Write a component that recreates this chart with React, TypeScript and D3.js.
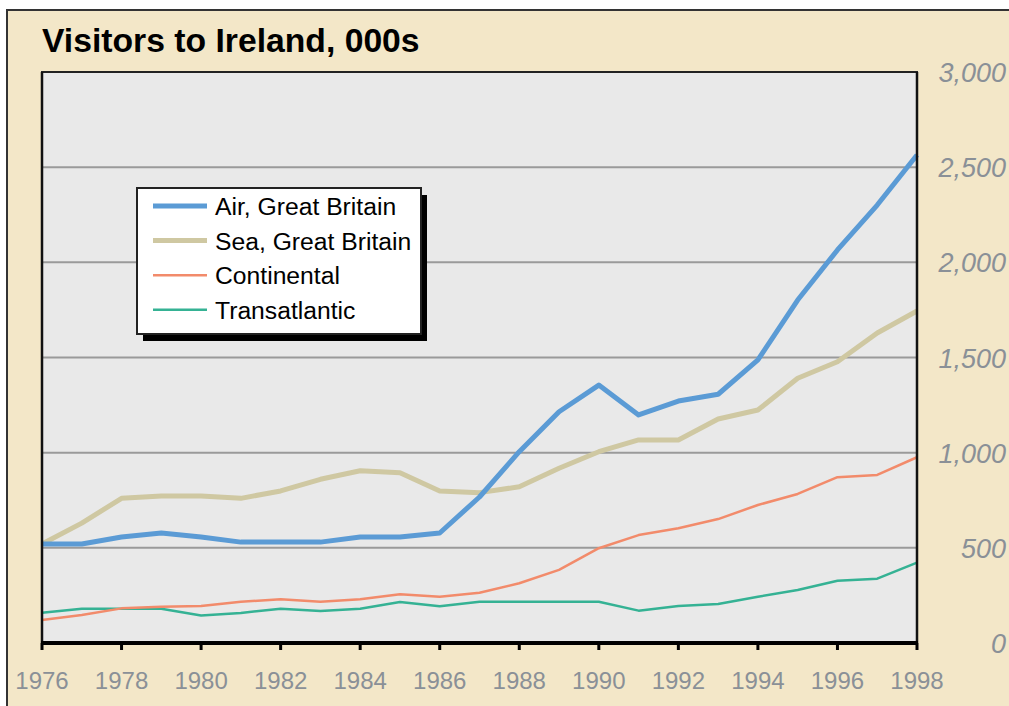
import React, { useEffect, useRef } from 'react';
import * as d3 from 'd3';

// years on the x axis, 1976..1998
const years = [1976, 1977, 1978, 1979, 1980, 1981, 1982, 1983, 1984, 1985, 1986, 1987,
  1988, 1989, 1990, 1991, 1992, 1993, 1994, 1995, 1996, 1997, 1998];

// visitors, thousands
const airGB = [520, 520, 557, 578, 557, 530, 530, 530, 557, 557, 578, 767,
  1005, 1215, 1355, 1198, 1271, 1307, 1487, 1802, 2065, 2301, 2564];
const seaGB = [520, 630, 760, 772, 772, 760, 799, 860, 905, 895, 799, 790,
  821, 918, 1005, 1067, 1067, 1177, 1224, 1391, 1478, 1629, 1744];
const continental = [121, 147, 182, 191, 194, 217, 230, 217, 230, 256, 243, 264,
  314, 384, 498, 567, 603, 651, 725, 783, 871, 883, 976];
const transatlantic = [159, 180, 180, 180, 145, 158, 180, 168, 180, 215, 193, 217,
  217, 217, 217, 170, 194, 205, 243, 278, 327, 338, 422];

const seriesNames = ['Air, Great Britain', 'Sea, Great Britain', 'Continental', 'Transatlantic'];
const seriesColors = ['#5b9bd5', '#cfc8a2', '#f28b6b', '#35b294'];
const seriesWidths = [5, 5, 2.5, 2.5];

const yTicks = [0, 500, 1000, 1500, 2000, 2500, 3000];
const xTicks = [1976, 1978, 1980, 1982, 1984, 1986, 1988, 1990, 1992, 1994, 1996, 1998];

const App = () => {
  const svgRef = useRef<SVGSVGElement>(null);

  useEffect(() => {
    const width = 1009;
    const height = 706;
    const plot = { left: 42, right: 917, top: 72, bottom: 643 };

    const svg = d3.select(svgRef.current);
    svg.selectAll('*').remove();
    svg.attr('width', width).attr('height', height);

    // outer panel
    svg.append('rect')
      .attr('x', 7).attr('y', 10)
      .attr('width', 1030).attr('height', 730)
      .attr('fill', '#f3e7c8')
      .attr('stroke', '#333').attr('stroke-width', 2);

    svg.append('text')
      .attr('x', 42).attr('y', 52)
      .attr('font-family', 'Liberation Sans, Arial, sans-serif')
      .attr('font-weight', 'bold')
      .attr('font-size', 33.7)
      .attr('fill', '#000')
      .text('Visitors to Ireland, 000s');

    const x = d3.scaleLinear().domain([1976, 1998]).range([plot.left, plot.right]);
    const y = d3.scaleLinear().domain([0, 3000]).range([plot.bottom, plot.top]);

    // plot background
    svg.append('rect')
      .attr('x', plot.left).attr('y', plot.top)
      .attr('width', plot.right - plot.left).attr('height', plot.bottom - plot.top)
      .attr('fill', '#e9e9e9')
      .attr('stroke', '#222').attr('stroke-width', 2);

    // gridlines
    svg.append('g')
      .selectAll('line')
      .data(yTicks.filter(d => d > 0 && d < 3000))
      .join('line')
      .attr('x1', plot.left).attr('x2', plot.right)
      .attr('y1', d => y(d)).attr('y2', d => y(d))
      .attr('stroke', '#9a9a9a').attr('stroke-width', 2);

    // right-hand y labels
    svg.append('g')
      .selectAll('text')
      .data(yTicks)
      .join('text')
      .attr('x', 1006)
      .attr('y', d => y(d) + 10)
      .attr('text-anchor', 'end')
      .attr('font-family', 'Liberation Sans, Arial, sans-serif')
      .attr('font-style', 'italic')
      .attr('font-size', 27)
      .attr('fill', '#8a9097')
      .text(d => d3.format(',')(d));

    // lines
    const allSeries = [airGB, seaGB, continental, transatlantic];
    const line = d3.line<number>()
      .x((_, i) => x(years[i]))
      .y(d => y(d));

    // thin ones first, then sea, then air on top
    [3, 2, 1, 0].forEach(k => {
      svg.append('path')
        .datum(allSeries[k])
        .attr('d', line)
        .attr('fill', 'none')
        .attr('stroke', seriesColors[k])
        .attr('stroke-width', seriesWidths[k])
        .attr('stroke-linejoin', 'round');
    });

    // frame edges on top of lines
    svg.append('line')
      .attr('x1', plot.left).attr('x2', plot.left)
      .attr('y1', plot.top).attr('y2', plot.bottom)
      .attr('stroke', '#111').attr('stroke-width', 2.5);
    svg.append('line')
      .attr('x1', plot.right).attr('x2', plot.right)
      .attr('y1', plot.top).attr('y2', plot.bottom)
      .attr('stroke', '#111').attr('stroke-width', 2.5);

    // bottom axis
    const xAxis = svg.append('g');
    xAxis.append('line')
      .attr('x1', plot.left - 1).attr('x2', plot.right + 1)
      .attr('y1', plot.bottom).attr('y2', plot.bottom)
      .attr('stroke', '#000').attr('stroke-width', 4);
    xAxis.selectAll('line.tick')
      .data(xTicks)
      .join('line')
      .attr('class', 'tick')
      .attr('x1', d => x(d)).attr('x2', d => x(d))
      .attr('y1', plot.bottom).attr('y2', plot.bottom + 7)
      .attr('stroke', '#000').attr('stroke-width', 3);
    xAxis.selectAll('text')
      .data(xTicks)
      .join('text')
      .attr('x', d => x(d))
      .attr('y', 689)
      .attr('text-anchor', 'middle')
      .attr('font-family', 'Liberation Sans, Arial, sans-serif')
      .attr('font-size', 24)
      .attr('fill', '#8a9097')
      .text(d => d);

    // legend
    const lg = { x: 137, y: 188, w: 284, h: 146 };
    svg.append('rect')
      .attr('x', lg.x + 6).attr('y', lg.y + 7)
      .attr('width', lg.w).attr('height', lg.h)
      .attr('fill', '#000');
    svg.append('rect')
      .attr('x', lg.x).attr('y', lg.y)
      .attr('width', lg.w).attr('height', lg.h)
      .attr('fill', '#fff')
      .attr('stroke', '#222').attr('stroke-width', 2);

    const items = svg.append('g')
      .selectAll('g')
      .data(seriesNames)
      .join('g')
      .attr('transform', (_, i) => `translate(0, ${206 + i * 34.6})`);
    items.append('line')
      .attr('x1', 153).attr('x2', 207)
      .attr('y1', 0).attr('y2', 0)
      .attr('stroke', (_, i) => seriesColors[i])
      .attr('stroke-width', (_, i) => seriesWidths[i]);
    items.append('text')
      .attr('x', 215).attr('y', 9)
      .attr('font-family', 'Liberation Sans, Arial, sans-serif')
      .attr('font-size', 24.7)
      .attr('fill', '#000')
      .text(d => d);
  }, []);

  return (
    <svg ref={svgRef} style={{ position: 'absolute', left: 0, top: 0, display: 'block' }} />
  );
};

export default App;
